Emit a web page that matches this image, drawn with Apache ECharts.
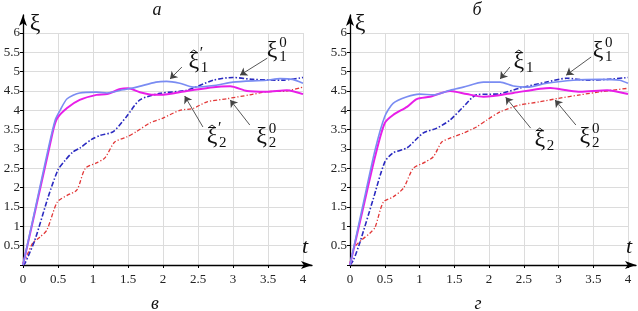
<!DOCTYPE html>
<html>
<head>
    <meta charset="utf-8">
    <title>xi(t)</title>
    <script src="https://cdn.jsdelivr.net/npm/echarts@6/dist/echarts.min.js"></script>
    <style>
        html, body { margin: 0; padding: 0; background: #fff; }
    </style>
</head>
<body>
    <div id="main" style="width:638px; height:311px;"></div>
    <script type="text/javascript">

    // панель а
    var xi1HatA = [[0,0],[0.18,1.5],[0.36,3.0],[0.46,3.75],[0.53,4.0],[0.63,4.3],[0.81,4.45],[1.05,4.47],[1.2,4.45],[1.43,4.53],[1.62,4.6],[1.9,4.73],[2.05,4.75],[2.24,4.7],[2.43,4.6],[2.76,4.65],[3.0,4.73],[3.48,4.78],[3.67,4.82],[3.85,4.8],[4.0,4.7]];
    var xi2HatA = [[0,0],[0.18,1.45],[0.36,2.9],[0.44,3.55],[0.49,3.8],[0.63,4.06],[0.81,4.27],[1.05,4.4],[1.2,4.42],[1.39,4.55],[1.5,4.57],[1.67,4.47],[1.86,4.4],[1.96,4.4],[2.34,4.5],[2.72,4.6],[2.96,4.62],[3.2,4.5],[3.48,4.48],[3.77,4.52],[4.0,4.42]];
    var xi1ZeroA = [[0,0],[0.03,0.05],[0.17,0.65],[0.36,1.76],[0.5,2.46],[0.6,2.7],[0.71,2.92],[0.81,3.02],[0.98,3.25],[1.1,3.35],[1.29,3.45],[1.48,3.84],[1.67,4.27],[1.96,4.44],[2.34,4.52],[2.72,4.78],[3.0,4.85],[3.29,4.8],[3.71,4.78],[4.0,4.85]];
    var xi2ZeroA = [[0,0.05],[0.07,0.3],[0.14,0.57],[0.24,0.72],[0.34,0.9],[0.49,1.63],[0.63,1.8],[0.77,1.94],[0.89,2.5],[1.05,2.64],[1.17,2.77],[1.31,3.18],[1.48,3.31],[1.62,3.45],[1.81,3.67],[2.0,3.8],[2.24,4.0],[2.43,4.05],[2.63,4.22],[2.91,4.3],[3.24,4.4],[3.48,4.48],[3.77,4.5],[4.0,4.6]];

    // панель б
    var xi1HatB = [[0,0],[0.18,1.5],[0.36,2.97],[0.5,3.84],[0.62,4.18],[0.82,4.35],[1.0,4.42],[1.2,4.4],[1.44,4.52],[1.63,4.6],[1.92,4.73],[2.16,4.73],[2.35,4.63],[2.55,4.6],[2.83,4.7],[3.21,4.78],[3.6,4.8],[3.88,4.78],[4.0,4.7]];
    var xi2HatB = [[0,0],[0.18,1.4],[0.36,2.8],[0.5,3.67],[0.62,3.88],[0.82,4.09],[0.96,4.29],[1.15,4.35],[1.44,4.5],[1.68,4.42],[1.92,4.35],[2.06,4.37],[2.35,4.45],[2.88,4.58],[3.12,4.52],[3.31,4.48],[3.7,4.52],[4.0,4.42]];
    var xi1ZeroB = [[0,0],[0.05,0.13],[0.14,0.57],[0.33,1.68],[0.5,2.66],[0.62,2.9],[0.82,3.03],[1.05,3.41],[1.25,3.54],[1.44,3.75],[1.63,4.09],[1.82,4.4],[2.16,4.43],[2.45,4.58],[2.83,4.73],[3.12,4.83],[3.41,4.78],[3.7,4.8],[4.0,4.85]];
    var xi2ZeroB = [[0,0.05],[0.07,0.47],[0.17,0.65],[0.29,0.83],[0.36,0.97],[0.48,1.63],[0.62,1.76],[0.77,1.99],[0.91,2.5],[1.08,2.66],[1.2,2.8],[1.32,3.18],[1.44,3.28],[1.63,3.41],[1.82,3.57],[1.97,3.75],[2.16,3.96],[2.45,4.14],[2.73,4.22],[3.0,4.31],[3.31,4.4],[3.6,4.48],[4.0,4.57]];

    // подписи кривых: положение символа, хвост и конец стрелки (в координатах графика)
    var notesA = [
        {at: [2.44, 5.25], tail: [2.27, 5.12], tip: [2.1, 4.81], hat: true, prime: true, sub: '1'},
        {at: [3.56, 5.53], tail: [3.49, 5.35], tip: [3.1, 4.91], sup: '0', sub: '1'},
        {at: [2.70, 3.31], tail: [2.57, 3.57], tip: [2.31, 4.37], hat: true, prime: true, sub: '2'},
        {at: [3.41, 3.31], tail: [3.24, 3.62], tip: [2.96, 4.27], sup: '0', sub: '2'}
    ];
    var notesB = [
        {at: [2.43, 5.25], tail: [2.3, 5.12], tip: [2.16, 4.81], hat: true, sub: '1'},
        {at: [3.57, 5.53], tail: [3.47, 5.38], tip: [3.11, 4.91], sup: '0', sub: '1'},
        {at: [2.73, 3.23], tail: [2.6, 3.54], tip: [2.24, 4.34], hat: true, sub: '2'},
        {at: [3.38, 3.31], tail: [3.25, 3.62], tip: [2.95, 4.27], sup: '0', sub: '2'}
    ];

    var serif = "'Liberation Serif', 'Times New Roman', Times, 'DejaVu Serif', serif";

    var lightBlue = {color: '#7a8cf2', width: 1.6, type: 'solid'};
    var magenta = {color: '#e81ee8', width: 2, type: 'solid'};
    var blueDash = {color: '#2a2ac0', width: 1.6, type: [5, 2, 1.5, 2]};
    var redDash = {color: '#e23838', width: 1.3, type: [4, 2, 1.2, 2]};

    var myChart = echarts.init(document.getElementById('main'));

    function dataAxes(gi, isX) {
        return {
            gridIndex: gi,
            type: 'value',
            min: 0,
            max: isX ? 4 : 6,
            interval: 0.5,
            axisLine: {show: false},
            axisTick: {show: true, length: 3, lineStyle: {color: '#000'}},
            axisLabel: {
                show: true,
                fontFamily: serif,
                fontSize: 13,
                color: '#222',
                margin: isX ? 8 : 3,
                showMinLabel: true,
                showMaxLabel: true,
                formatter: function (v) {
                    if (!isX && v === 0) return '';
                    return String(v);
                }
            },
            splitLine: {show: true, lineStyle: {color: '#dcdcdc', width: 1}}
        };
    }

    // оси со стрелками (отдельная сетка чуть шире)
    function arrowAxis(gi) {
        return {
            gridIndex: gi,
            type: 'value',
            min: 0,
            max: 1,
            axisLine: {show: true, onZero: false, symbol: ['none', 'arrow'], symbolSize: [6, 11],
                       lineStyle: {color: '#000', width: 1.3}},
            axisTick: {show: false},
            axisLabel: {show: false},
            splitLine: {show: false}
        };
    }

    function curve(data, style, gi) {
        return {
            type: 'line',
            xAxisIndex: gi,
            yAxisIndex: gi,
            data: data,
            showSymbol: false,
            smooth: 0.25,
            lineStyle: style,
            silent: true
        };
    }

    function arrows(notes, gi) {
        return {
            type: 'line',
            xAxisIndex: gi,
            yAxisIndex: gi,
            data: [],
            markLine: {
                silent: true,
                symbol: ['none', 'arrow'],
                symbolSize: 7,
                label: {show: false},
                lineStyle: {color: '#444', width: 0.9, type: 'solid'},
                data: notes.map(function (n) {
                    return [{coord: n.tail}, {coord: n.tip}];
                })
            }
        };
    }

    var option = {
        animation: false,
        backgroundColor: '#fff',
        grid: [
            {left: 23, right: 335, top: 33, bottom: 46},
            {left: 350, right: 10, top: 33, bottom: 46},
            {left: 23, right: 326, top: 15, bottom: 46},
            {left: 350, right: 2, top: 15, bottom: 46}
        ],
        xAxis: [dataAxes(0, true), dataAxes(1, true), arrowAxis(2), arrowAxis(3)],
        yAxis: [dataAxes(0, false), dataAxes(1, false), arrowAxis(2), arrowAxis(3)],
        series: [
            curve(xi2ZeroA, redDash, 0),
            curve(xi1ZeroA, blueDash, 0),
            curve(xi2HatA, magenta, 0),
            curve(xi1HatA, lightBlue, 0),
            arrows(notesA, 0),
            curve(xi2ZeroB, redDash, 1),
            curve(xi1ZeroB, blueDash, 1),
            curve(xi2HatB, magenta, 1),
            curve(xi1HatB, lightBlue, 1),
            arrows(notesB, 1)
        ]
    };

    myChart.setOption(option);

    function txt(x, y, s, size, italic, align) {
        return {
            type: 'text', x: x, y: y, silent: true,
            style: {
                text: s,
                fontFamily: serif,
                fontSize: size,
                fontStyle: italic ? 'italic' : 'normal',
                fill: '#111',
                align: align || 'center', textAlign: align || 'center',
                verticalAlign: 'middle', textVerticalAlign: 'middle'
            }
        };
    }

    function noteLabel(n, gi) {
        var p = myChart.convertToPixel({gridIndex: gi}, n.at);
        var x = p[0], y = p[1];
        var els = [txt(x, y, 'ξ', 24, false)];
        if (n.hat) {
            els.push({type: 'polyline', silent: true,
                shape: {points: [[x - 4, y - 9], [x, y - 12], [x + 4, y - 9]]},
                style: {stroke: '#111', lineWidth: 0.9, fill: null}});
        }
        if (n.prime) els.push(txt(x + 6, y - 8, '′', 16, false, 'left'));
        if (n.sup) els.push(txt(x + 7, y - 8, n.sup, 15, false, 'left'));
        if (n.sub) els.push(txt(x + 7, y + 6, n.sub, 15, false, 'left'));
        return els;
    }

    var g = [
        txt(157, 10, 'а', 18, true),
        txt(477, 10, 'б', 18, true),
        txt(155, 304, 'в', 18, true),
        txt(478, 304, 'г', 18, true),
        txt(35, 24, 'ξ', 24, false),
        txt(360, 24, 'ξ', 24, false),
        txt(305, 247, 't', 22, true),
        txt(629, 247, 't', 22, true)
    ];
    notesA.forEach(function (n) { g = g.concat(noteLabel(n, 0)); });
    notesB.forEach(function (n) { g = g.concat(noteLabel(n, 1)); });

    myChart.setOption({graphic: {elements: g}});
    </script>
</body>
</html>
